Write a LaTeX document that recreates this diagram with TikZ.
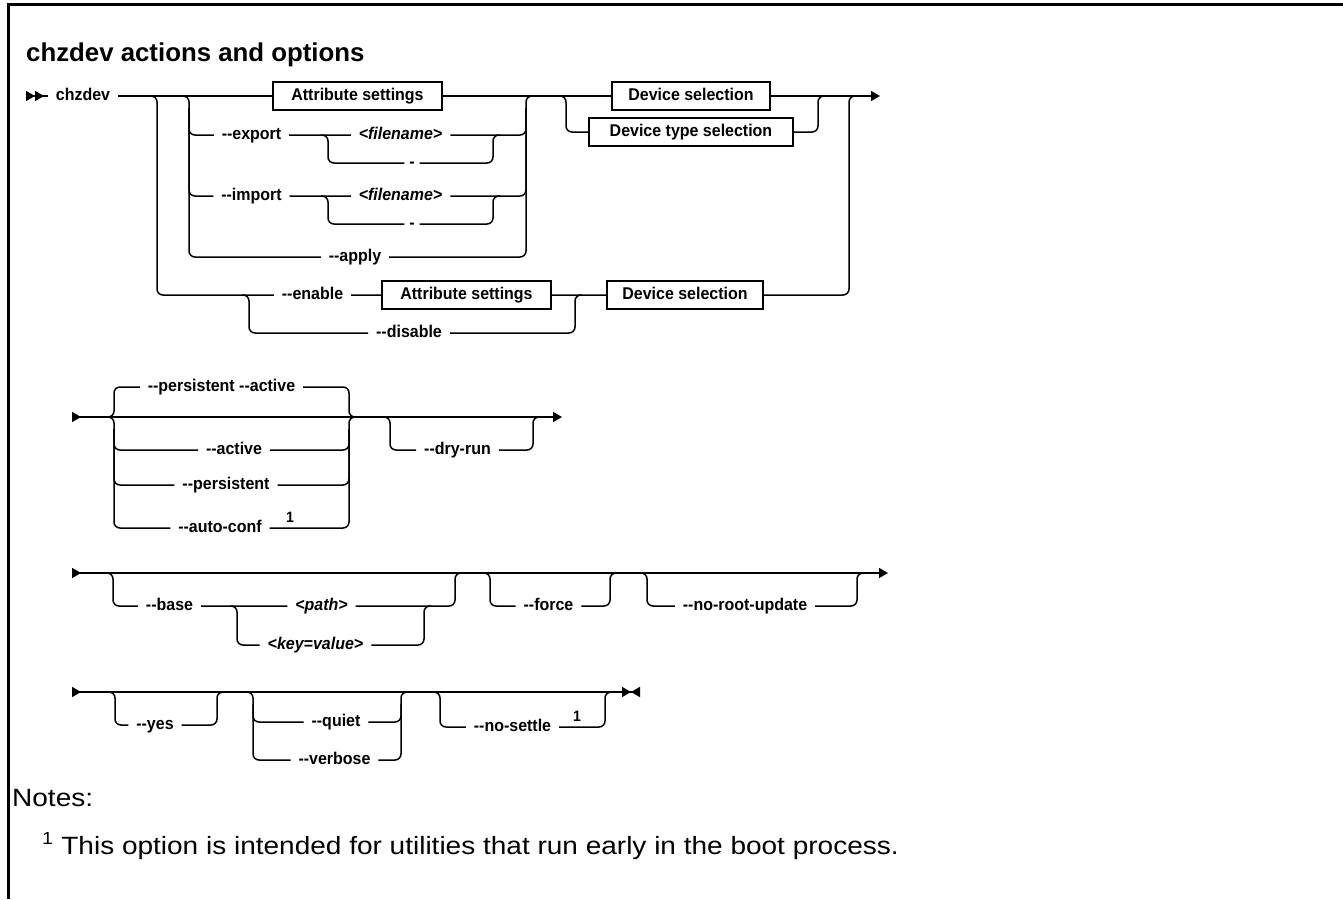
\documentclass[tikz,border=0pt]{standalone}
\usepackage{fontspec}
\setmainfont{Liberation Sans}
\newfontfamily\lblfont[FakeStretch=0.94]{Liberation Sans}
\newfontfamily\notefont[FakeStretch=1.12]{Liberation Sans}
\usetikzlibrary{arrows.meta}
\newcommand{\dd}{-\kern0pt-}
\newcommand{\lblsize}{\fontsize{17}{20}\selectfont}
\tikzset{
  rail/.style={line width=1.5pt, rounded corners=6pt},
  lbl/.style={font=\lblfont\bfseries\lblsize, text height=12pt, text depth=3pt, inner xsep=8pt, inner ysep=0pt, outer sep=0pt},
  synbox/.style={lbl, draw, line width=1.4pt, minimum height=28pt, inner xsep=6pt},
  supnum/.style={font=\lblfont\bfseries\fontsize{15}{17}\selectfont, inner sep=0pt},
}
\begin{document}
\begin{tikzpicture}[x=1pt, y=-1pt]
  \useasboundingbox (0,0) rectangle (1343,899);
  \draw[line width=2.2pt] (8.5,899) -- (8.5,4.5) -- (1343,4.5);
  \node[anchor=base west, inner sep=0pt, font=\bfseries\fontsize{25.8}{30}\selectfont] (title) at (26,62) {chzdev actions and options};

  % actions
  \coordinate (s1) at (26,96);
  \node[lbl] (chz) at (83,96) {chzdev};
  \coordinate (jA) at (157,96);
  \coordinate (jB) at (189,96);
  \node[synbox, minimum width=169pt] (att1) at (357.5,96) {Attribute settings};
  \coordinate (jC) at (526,96);
  \coordinate (jD) at (566,96);
  \node[synbox, minimum width=158pt] (dev1) at (691,96) {Device selection};
  \node[synbox, minimum width=204pt] (dev2) at (691,132) {Device type selection};
  \coordinate (jE) at (818,96);
  \coordinate (jF) at (849,96);
  \coordinate (e1) at (880,96);

  \node[lbl] (exp) at (251.5,135) {\dd export};
  \coordinate (xa) at (328,135);
  \node[lbl, font=\lblfont\bfseries\itshape\lblsize] (fn1) at (400.5,135) {<filename>};
  \node[lbl, inner xsep=5pt] (dash1) at (412,163) {-};
  \coordinate (xb) at (493,135);
  \node[lbl] (imp) at (251.5,196) {\dd import};
  \coordinate (ia) at (328,196);
  \node[lbl, font=\lblfont\bfseries\itshape\lblsize] (fn2) at (400.5,196) {<filename>};
  \node[lbl, inner xsep=5pt] (dash2) at (412,224) {-};
  \coordinate (ib) at (493,196);
  \node[lbl] (apl) at (355,257) {\dd apply};

  \node[lbl] (enb) at (312.5,295) {\dd enable};
  \coordinate (na) at (249,295);
  \node[synbox, minimum width=169pt] (att2) at (466.5,295) {Attribute settings};
  \coordinate (nb) at (575,295);
  \node[synbox, minimum width=156pt] (dev3) at (685,295) {Device selection};
  \node[lbl] (dis) at (409,333) {\dd disable};

  \draw[rail, {Triangle[reversed,length=9pt,width=10pt]Triangle[reversed,length=9pt,width=10pt]}-] (s1) -- (chz);
  \draw[rail, -{Triangle[length=9pt,width=10pt]}] (chz) -- (att1) -- (dev1) -- (e1);
  \draw[rail] ([xshift=-7pt]jB) -- (jB) |- (apl) -| (jC) -- ([xshift=7pt]jC);
  \draw[rail] ([yshift=-12pt]jB) |- (exp) -- (fn1) -| ([yshift=-12pt]jC);
  \draw[rail] ([xshift=-7pt]xa) -- (xa) |- (dash1) -| (xb) -- ([xshift=7pt]xb);
  \draw[rail] ([yshift=-12pt]jB) |- (imp) -- (fn2) -| ([yshift=-12pt]jC);
  \draw[rail] ([xshift=-7pt]ia) -- (ia) |- (dash2) -| (ib) -- ([xshift=7pt]ib);
  \draw[rail] ([xshift=-7pt]jD) -- (jD) |- (dev2) -| (jE) -- ([xshift=7pt]jE);
  \draw[rail] ([xshift=-7pt]jA) -- (jA) |- (enb) -- (att2) -- (dev3) -| (jF) -- ([xshift=7pt]jF);
  \draw[rail] ([xshift=-7pt]na) -- (na) |- (dis) -| (nb) -- ([xshift=7pt]nb);

  % scope
  \coordinate (s2) at (72,417);
  \coordinate (pA) at (114,417);
  \node[lbl] (pa) at (221.5,387) {\dd persistent \dd active};
  \node[lbl] (act) at (234,450) {\dd active};
  \node[lbl] (per) at (226,485) {\dd persistent};
  \node[lbl] (auto) at (220,528) {\dd auto-conf};
  \node[supnum] (n1) at (290,517) {1};
  \coordinate (pB) at (349,417);
  \coordinate (dA) at (390,417);
  \node[lbl] (dry) at (457.5,450) {\dd dry-run};
  \coordinate (dB) at (533,417);
  \coordinate (e2) at (562,417);

  \draw[rail, {Triangle[reversed,length=9pt,width=10pt]}-{Triangle[length=9pt,width=10pt]}] (s2) -- (e2);
  \draw[rail] ([xshift=-7pt]pA) -- (pA) |- (pa) -| (pB) -- ([xshift=7pt]pB);
  \draw[rail] ([xshift=-7pt]pA) -- (pA) |- (auto) -| (pB) -- ([xshift=7pt]pB);
  \draw[rail] ([yshift=-12pt]pA) |- (act) -| ([yshift=-12pt]pB);
  \draw[rail] ([yshift=-12pt]pA) |- (per) -| ([yshift=-12pt]pB);
  \draw[rail] ([xshift=-7pt]dA) -- (dA) |- (dry) -| (dB) -- ([xshift=7pt]dB);

  % base and update
  \coordinate (s3) at (72,573);
  \coordinate (bA) at (113,573);
  \node[lbl] (bas) at (169.5,606) {\dd base};
  \coordinate (kA) at (237,606);
  \node[lbl, font=\lblfont\bfseries\itshape\lblsize] (pth) at (321.5,606) {<path>};
  \node[lbl, font=\lblfont\bfseries\itshape\lblsize] (kv) at (315.5,645) {<key=value>};
  \coordinate (kB) at (424,606);
  \coordinate (bB) at (455,573);
  \coordinate (fA) at (490,573);
  \node[lbl] (frc) at (548.5,606) {\dd force};
  \coordinate (fB) at (610,573);
  \coordinate (rA) at (647,573);
  \node[lbl] (nru) at (745,606) {\dd no-root-update};
  \coordinate (rB) at (857,573);
  \coordinate (e3) at (888,573);

  \draw[rail, {Triangle[reversed,length=9pt,width=10pt]}-{Triangle[length=9pt,width=10pt]}] (s3) -- (e3);
  \draw[rail] ([xshift=-7pt]bA) -- (bA) |- (bas) -- (pth) -| (bB) -- ([xshift=7pt]bB);
  \draw[rail] ([xshift=-7pt]kA) -- (kA) |- (kv) -| (kB) -- ([xshift=7pt]kB);
  \draw[rail] ([xshift=-7pt]fA) -- (fA) |- (frc) -| (fB) -- ([xshift=7pt]fB);
  \draw[rail] ([xshift=-7pt]rA) -- (rA) |- (nru) -| (rB) -- ([xshift=7pt]rB);

  % messages
  \coordinate (s4) at (72,692);
  \coordinate (yA) at (115,692);
  \node[lbl] (yes) at (155,725) {\dd yes};
  \coordinate (yB) at (217,692);
  \coordinate (qA) at (253,692);
  \node[lbl] (qui) at (336,722) {\dd quiet};
  \node[lbl] (vrb) at (334.5,760) {\dd verbose};
  \coordinate (qB) at (401,692);
  \coordinate (tA) at (440,692);
  \node[lbl] (nst) at (512.5,727) {\dd no-settle};
  \node[supnum] (n2) at (577,716) {1};
  \coordinate (tB) at (605,692);
  \coordinate (e4) at (640,692);

  \draw[rail, {Triangle[reversed,length=9pt,width=10pt]}-{Triangle[length=9pt,width=10pt]Triangle[reversed,length=9pt,width=10pt]}] (s4) -- (e4);
  \draw[rail] ([xshift=-7pt]yA) -- (yA) |- (yes) -| (yB) -- ([xshift=7pt]yB);
  \draw[rail] ([xshift=-7pt]qA) -- (qA) |- (vrb) -| (qB) -- ([xshift=7pt]qB);
  \draw[rail] ([yshift=-12pt]qA) |- (qui) -| ([yshift=-12pt]qB);
  \draw[rail] ([xshift=-7pt]tA) -- (tA) |- (nst) -| (tB) -- ([xshift=7pt]tB);

  \node[anchor=base west, inner sep=0pt, font=\notefont\fontsize{25}{30}\selectfont] (notes) at (12,806) {Notes:};
  \node[anchor=base west, inner sep=0pt, font=\notefont\fontsize{25}{30}\selectfont] (note1) at (42,854) {\textsuperscript{1} This option is intended for utilities that run early in the boot process.};
\end{tikzpicture}
\end{document}
